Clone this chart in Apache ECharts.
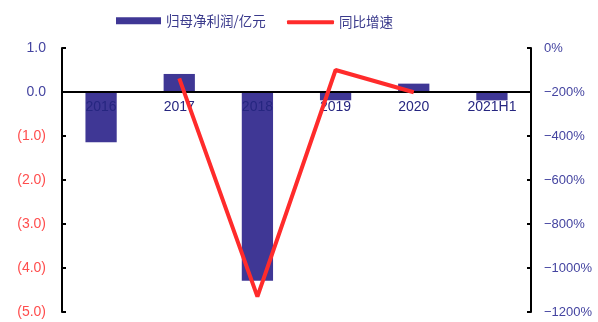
<!DOCTYPE html>
<html>
<head>
<meta charset="utf-8">
<script src="https://cdn.jsdelivr.net/npm/echarts@6/dist/echarts.min.js"></script>
<style>
  html, body { margin: 0; padding: 0; background: #fff; }
  #main { width: 598px; height: 322px; }
</style>
</head>
<body>
<div id="main"></div>
<script>
// categories and values
const years = ['2016', '2017', '2018', '2019', '2020', '2021H1'];
const netProfit = [-1.14, 0.41, -4.29, -0.19, 0.19, -0.19];   // 归母净利润/亿元
const yoyGrowth = [null, -138, -1130, -100, -201, null];      // 同比增速 %

const barColor = '#3f3795';
const lineColor = '#ff2b2b';
const textBlue = '#4444a0';
const legendText = { color: '#3a3a8c', fontSize: 13.5, fontFamily: 'Noto Sans CJK SC' };

const chart = echarts.init(document.getElementById('main'));

const option = {
  animation: false,
  // two legends so each icon can have its own thickness
  legend: [
    {
      left: 116, top: 14, padding: 0,
      itemWidth: 45, itemHeight: 7, itemGap: 6,
      textStyle: legendText,
      data: [{ name: '归母净利润/亿元', icon: 'rect' }]
    },
    {
      left: 287, top: 15.5, padding: 0,
      itemWidth: 47, itemHeight: 4,
      textStyle: legendText,
      data: [{ name: '同比增速', icon: 'roundRect' }]
    }
  ],
  grid: { left: 62, right: 67, top: 48, bottom: 10 },
  xAxis: {
    type: 'category',
    data: years,
    z: 3, // labels drawn over the bars, under the line
    axisLine: { onZero: true, lineStyle: { color: '#000', width: 2 } },
    axisTick: { inside: true, length: 3, lineStyle: { color: '#000', width: 2 } },
    // labels sit just under the zero line
    axisLabel: { color: '#262680', fontSize: 14, fontFamily: 'Liberation Sans', margin: -212 }
  },
  yAxis: [
    {
      type: 'value',
      min: -5, max: 1, interval: 1,
      splitLine: { show: false },
      axisLine: { show: true, lineStyle: { color: '#000', width: 2 } },
      axisTick: { show: true, inside: true, length: 4, lineStyle: { color: '#000', width: 2 } },
      axisLabel: {
        margin: 16,
        fontSize: 14,
        fontFamily: 'Liberation Sans',
        formatter: v => v >= 0 ? v.toFixed(1) : '(' + (-v).toFixed(1) + ')',
        color: v => (v >= 0 ? textBlue : '#ff4d4d')
      }
    },
    {
      type: 'value',
      min: -1200, max: 0, interval: 200,
      splitLine: { show: false },
      axisLine: { show: true, lineStyle: { color: '#000', width: 2 } },
      axisTick: { show: true, inside: true, length: 4, lineStyle: { color: '#000', width: 2 } },
      axisLabel: {
        margin: 13,
        fontSize: 13,
        fontFamily: 'Liberation Sans',
        color: textBlue,
        formatter: v => v === 0 ? '0%' : '\u2212' + Math.abs(v) + '%'
      }
    }
  ],
  series: [
    {
      name: '归母净利润/亿元',
      type: 'bar',
      data: netProfit,
      barWidth: '40%',
      itemStyle: { color: barColor }
    },
    {
      name: '同比增速',
      type: 'line',
      yAxisIndex: 1,
      data: yoyGrowth,
      symbol: 'none',
      lineStyle: { color: lineColor, width: 4 },
      itemStyle: { color: lineColor },
      z: 5
    }
  ]
};

chart.setOption(option);
</script>
</body>
</html>
